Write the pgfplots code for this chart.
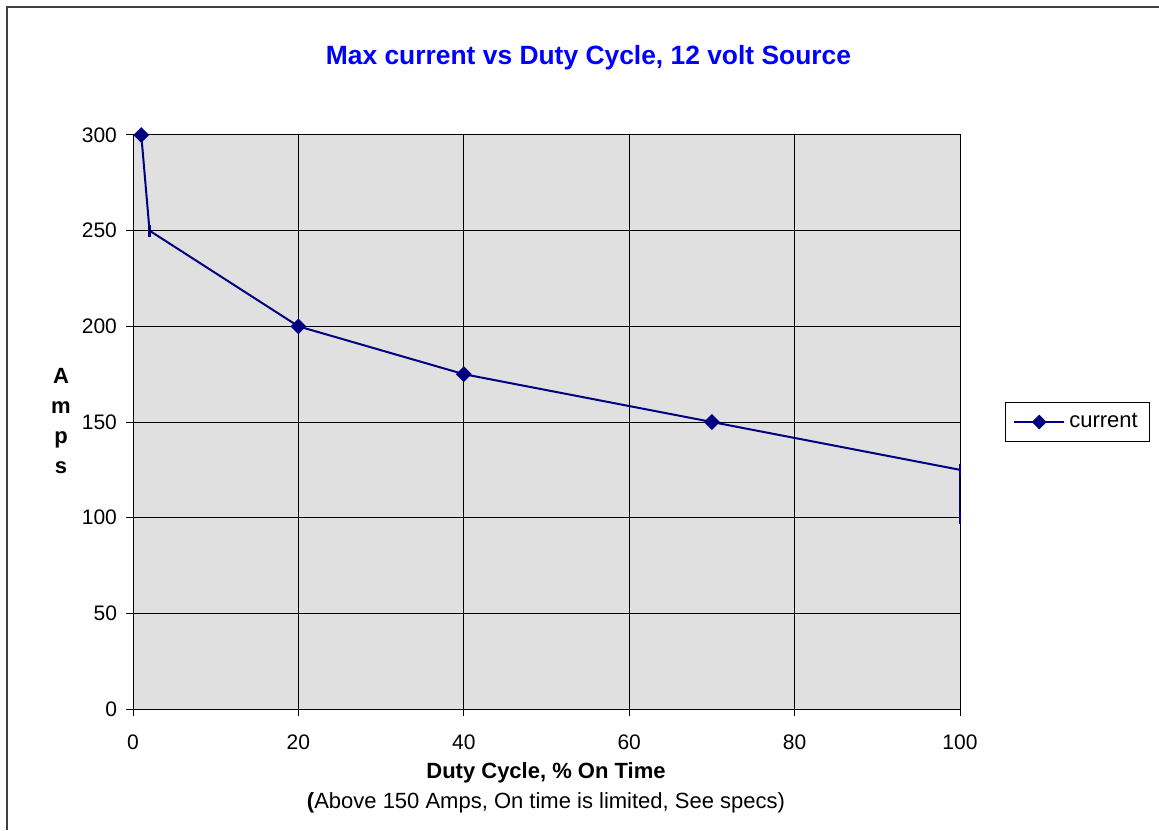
\documentclass[border=0pt]{standalone}
\usepackage{pgfplots}
\pgfplotsset{compat=1.18}
\usepackage{fontspec}
\setmainfont{Liberation Sans}
\definecolor{navy}{RGB}{0,0,128}
\definecolor{plotgray}{RGB}{224,224,224}
\definecolor{titleblue}{RGB}{0,0,255}
\begin{document}
\fontsize{10}{12}\selectfont
\begin{tikzpicture}
\path[use as bounding box] (-66.5pt,-60.5pt) rectangle (513pt,354.5pt);
\begin{axis}[
  scale only axis, width=413.5pt, height=287pt,
  xmin=0, xmax=100, ymin=0, ymax=300,
  xtick={0,20,...,100}, ytick={0,50,...,300},
  grid=major, major grid style={black, line width=0.5pt},
  axis background/.style={fill=plotgray},
  axis line style={black, line width=0.5pt},
  tick align=outside, tick pos=left, major tick length=3.5pt,
  tick style={black, line width=0.5pt},
  /pgf/number format/assume math mode=true,
  ticklabel style={font=\fontsize{10.5}{12}\selectfont},
  yticklabel style={xshift=-1pt},
  xticklabel style={yshift=-6pt},
  legend style={at={(472.25pt,143.5pt)}, anchor=center, draw=black, line width=0.5pt,
    fill=white, font=\fontsize{11}{13}\selectfont, inner xsep=4pt, inner ysep=3.5pt},
  legend cell align=left,
]
\addplot[navy, line width=1pt, mark=square*, mark size=2.3pt, mark indices={1,3,4,5},
  mark options={solid, fill=navy, rotate=45}, forget plot]
  coordinates {(1,300) (2,250) (20,200) (40,175) (70,150) (100,125) (100,100)};
\addplot[navy, only marks, line width=1.2pt, mark=|, mark size=3pt, forget plot]
  coordinates {(2,250) (100,125) (100,100)};
\addlegendimage{legend image code/.code={
  \draw[navy, line width=1pt] (0pt,0pt) -- (25pt,0pt);
  \fill[navy] (12.5pt,3.3pt) -- (15.8pt,0pt) -- (12.5pt,-3.3pt) -- (9.2pt,0pt) -- cycle;}}
\addlegendentry{current}
\end{axis}
\draw[black!75, line width=1pt] (-63pt,-60.5pt) |- (513pt,351pt);
\node[font=\bfseries\fontsize{13.2}{15}\selectfont, text=titleblue] at (227.75pt,325.5pt) {Max current vs Duty Cycle, 12 volt Source};
\node[font=\bfseries\fontsize{11}{13}\selectfont] at (206.5pt,-32pt) {Duty Cycle, \% On Time};
\node[font=\fontsize{11}{13}\selectfont] at (206.5pt,-47pt) {\textbf{(}Above 150 Amps, On time is limited, See specs)};
\node[font=\bfseries\fontsize{11}{15}\selectfont, align=center] at (-36pt,144pt) {A\\m\\p\\s};
\end{tikzpicture}
\end{document}
